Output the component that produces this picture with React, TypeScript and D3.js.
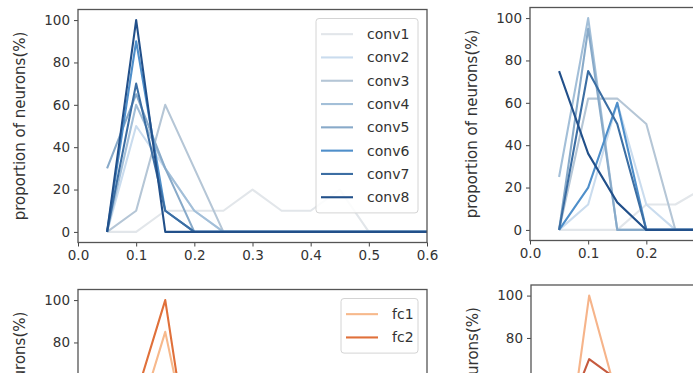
import { useEffect, useRef } from "react";
import * as d3 from "d3";

// thresholds on the x axis
const thresholds = [0.05, 0.1, 0.15, 0.2, 0.25, 0.3, 0.35, 0.4, 0.45, 0.5, 0.55, 0.6];

const convLabels = ["conv1", "conv2", "conv3", "conv4", "conv5", "conv6", "conv7", "conv8"];
const fcLabels = ["fc1", "fc2"];

// top-left panel
const convLeft = [
    [0, 0, 10, 10, 10, 20, 10, 10, 20, 0, 0, 0],
    [0, 50, 30, 10, 0, 0, 0, 0, 0, 0, 0, 0],
    [0, 10, 60, 30, 0, 0, 0, 0, 0, 0, 0, 0],
    [0, 60, 30, 10, 0, 0, 0, 0, 0, 0, 0, 0],
    [30, 65, 30, 0, 0, 0, 0, 0, 0, 0, 0, 0],
    [0, 90, 10, 0, 0, 0, 0, 0, 0, 0, 0, 0],
    [0, 70, 10, 0, 0, 0, 0, 0, 0, 0, 0, 0],
    [0, 100, 0, 0, 0, 0, 0, 0, 0, 0, 0, 0],
];

// top-right panel
const convRight = [
    [0, 0, 0, 12, 12, 20, 10, 5, 0, 0, 0, 0],
    [0, 12, 60, 12, 0, 0, 0, 0, 0, 0, 0, 0],
    [0, 62, 62, 50, 0, 0, 0, 0, 0, 0, 0, 0],
    [25, 100, 0, 0, 0, 0, 0, 0, 0, 0, 0, 0],
    [0, 95, 0, 0, 0, 0, 0, 0, 0, 0, 0, 0],
    [0, 20, 60, 0, 0, 0, 0, 0, 0, 0, 0, 0],
    [0, 75, 50, 0, 0, 0, 0, 0, 0, 0, 0, 0],
    [75, 36, 13, 0, 0, 0, 0, 0, 0, 0, 0, 0],
];

// bottom panels
const fcLeft = [
    [0, 40, 85, 20, 0, 0, 0, 0, 0, 0, 0, 0],
    [0, 55, 100, 10, 0, 0, 0, 0, 0, 0, 0, 0],
];
const fcRight = [
    [0, 100, 50, 10, 0, 0, 0, 0, 0, 0, 0, 0],
    [35, 70, 60, 20, 0, 0, 0, 0, 0, 0, 0, 0],
];

const xTicks = [0, 0.1, 0.2, 0.3, 0.4, 0.5, 0.6];
const yTicks = [0, 20, 40, 60, 80, 100];

const convColors = ["#e2e6ea", "#cadcee", "#b5c6d6", "#a3bfd8", "#88aac9", "#4f8fca", "#3c6ea3", "#22508a"];
const fcColorsLeft = ["#f7b98c", "#e0703a"];
const fcColorsRight = ["#f6b48a", "#c65a3e"];

type PanelSpec = {
    left: number;
    top: number;
    series: number[][];
    labels: string[];
    colors: string[];
    legend: boolean;
};

const FONT = "DejaVu Sans, sans-serif";
const W = 693;
const H = 373;

const App = () => {
    const ref = useRef<SVGSVGElement>(null);

    useEffect(() => {
        if (!ref.current) return;
        const root = d3.select(ref.current);
        root.selectAll("*").remove();

        const width = 349;
        const height = 233;

        const panels: PanelSpec[] = [
            { left: 78, top: 9.5, series: convLeft, labels: convLabels, colors: convColors, legend: true },
            { left: 530, top: 7.5, series: convRight, labels: convLabels, colors: convColors, legend: false },
            { left: 78, top: 289.5, series: fcLeft, labels: fcLabels, colors: fcColorsLeft, legend: true },
            { left: 531, top: 285, series: fcRight, labels: fcLabels, colors: fcColorsRight, legend: false },
        ];

        panels.forEach((p) => {
            const g = root.append("g").attr("transform", `translate(${p.left},${p.top})`);

            const x = d3.scaleLinear().domain([0, 0.6]).range([0, width]);
            const y = d3.scaleLinear().domain([-5, 105]).range([height, 0]);

            const clipId = `clip-${p.left}-${Math.round(p.top)}`;
            g.append("clipPath").attr("id", clipId).append("rect").attr("width", width).attr("height", height);

            const line = d3
                .line<number>()
                .x((_, i) => x(thresholds[i]))
                .y((d) => y(d));

            const lines = g.append("g").attr("clip-path", `url(#${clipId})`);
            p.series.forEach((s, i) => {
                lines
                    .append("path")
                    .datum(s)
                    .attr("d", line)
                    .attr("fill", "none")
                    .attr("stroke", p.colors[i])
                    .attr("stroke-width", 2.1)
                    .attr("stroke-linejoin", "round");
            });

            // only the ticks that land inside the page (the figure is cropped)
            const xVisible = xTicks.filter((t) => p.left + x(t) - 10 < W);
            const yVisible = yTicks.filter((t) => p.top + y(t) + 6 < H);

            const axes = [];
            if (p.top + height + 20 < H) {
                axes.push(
                    g
                        .append("g")
                        .attr("transform", `translate(0,${height})`)
                        .call(
                            d3.axisBottom(x).tickValues(xVisible).tickFormat(d3.format(".1f")).tickSize(4).tickPadding(4)
                        )
                );
            }
            axes.push(g.append("g").call(d3.axisLeft(y).tickValues(yVisible).tickSize(4).tickPadding(4)));

            axes.forEach((ax) => {
                ax.select(".domain").remove();
                ax.selectAll("line").attr("stroke", "#444");
                ax.selectAll("text").attr("font-family", FONT).attr("font-size", 13.5).attr("fill", "#333");
            });

            // frame
            g.append("rect")
                .attr("width", width)
                .attr("height", height)
                .attr("fill", "none")
                .attr("stroke", "#555")
                .attr("stroke-width", 1.3);

            // y label
            g.append("text")
                .attr("transform", `translate(${-53},${height / 2}) rotate(-90)`)
                .attr("text-anchor", "middle")
                .attr("font-family", FONT)
                .attr("font-size", 15)
                .attr("fill", "#333")
                .text("proportion of neurons(%)");

            if (p.legend) {
                const rowH = 23.3;
                const boxW = p.labels.length > 2 ? 102 : 77;
                const boxH = p.labels.length * rowH + 8;
                const legend = g.append("g").attr("transform", `translate(${width - 9 - boxW},9)`);
                legend
                    .append("rect")
                    .attr("width", boxW)
                    .attr("height", boxH)
                    .attr("rx", 3)
                    .attr("fill", "white")
                    .attr("fill-opacity", 0.85)
                    .attr("stroke", "#d4d4d4");
                const items = legend
                    .selectAll("g.item")
                    .data(p.labels)
                    .join("g")
                    .attr("class", "item")
                    .attr("transform", (_, i) => `translate(0,${4 + rowH * (i + 0.5)})`);
                items
                    .append("line")
                    .attr("x1", 5)
                    .attr("x2", 37)
                    .attr("stroke", (_, i) => p.colors[i])
                    .attr("stroke-width", 2.1);
                items
                    .append("text")
                    .attr("x", 51)
                    .attr("dy", "0.35em")
                    .attr("font-family", FONT)
                    .attr("font-size", 14)
                    .attr("fill", "#333")
                    .text((d) => d);
            }
        });
    }, []);

    return (
        <svg
            ref={ref}
            width={W}
            height={H}
            style={{ position: "absolute", left: 0, top: 0, background: "white", overflow: "hidden" }}
        />
    );
};

export default App;
